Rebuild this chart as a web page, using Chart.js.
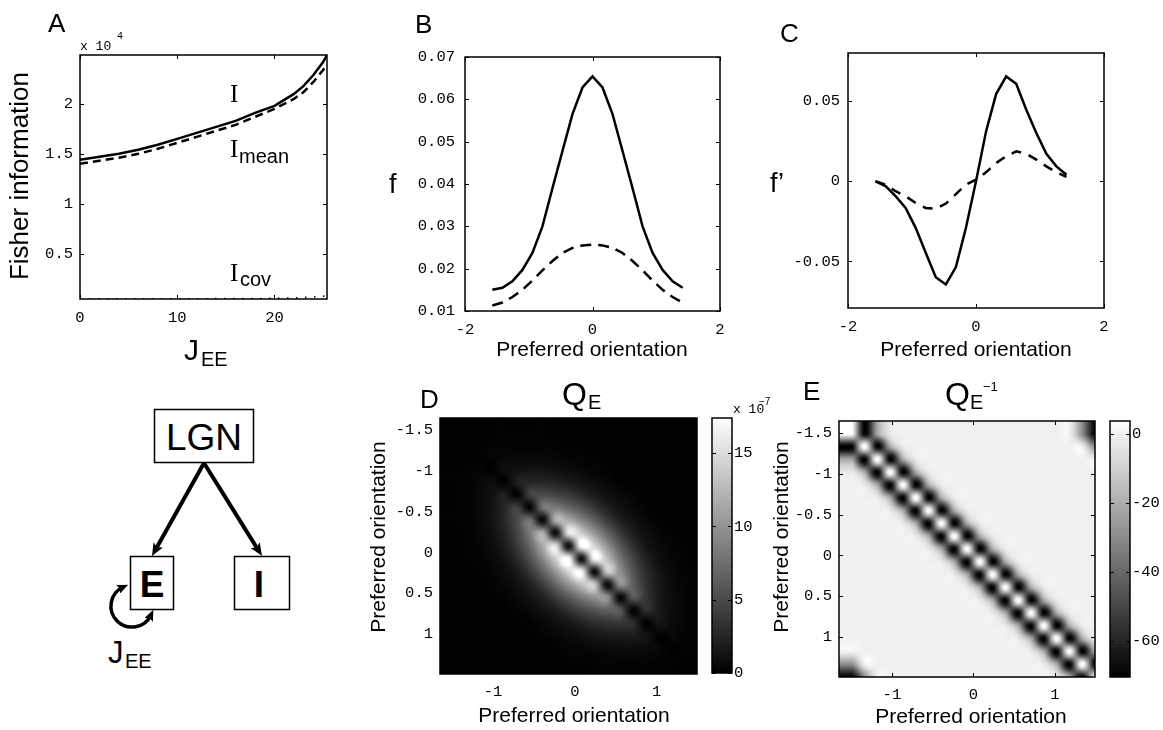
<!DOCTYPE html>
<html><head><meta charset="utf-8"><title>Fisher information figure</title>
<script src="https://cdn.jsdelivr.net/npm/chart.js@4.4.1/dist/chart.umd.min.js"></script>
<style>
html,body{margin:0;padding:0;background:#fff;}
#fig{position:relative;width:1163px;height:730px;overflow:hidden;background:#fff;}
#fig canvas,#fig svg{position:absolute;left:0;top:0;}
</style></head><body>
<div id="fig">
<svg id="diagram" width="1163" height="730" viewBox="0 0 1163 730" font-family="'Liberation Sans', Arial, sans-serif">
  <defs>
    <marker id="arr" viewBox="0 0 12 10" refX="6" refY="5" markerWidth="3.2" markerHeight="2.7" orient="auto-start-reverse" markerUnits="strokeWidth">
      <path d="M0,0 L12,5 L0,10 L2.5,5 z" fill="#000"/>
    </marker>
  </defs>
  <rect x="154.5" y="409.5" width="99" height="53" fill="#fff" stroke="#000" stroke-width="1.5"/>
  <text x="204" y="450" font-size="37" text-anchor="middle">LGN</text>
  <rect x="130.5" y="556.5" width="43" height="53" fill="none" stroke="#000" stroke-width="1.5"/>
  <text x="152" y="597" font-size="37" font-weight="bold" text-anchor="middle">E</text>
  <rect x="234.5" y="556.5" width="55" height="53" fill="none" stroke="#000" stroke-width="1.5"/>
  <text x="259" y="597" font-size="37" font-weight="bold" text-anchor="middle">I</text>
  <line x1="204" y1="463" x2="155.1" y2="550.4" stroke="#000" stroke-width="4" marker-end="url(#arr)"/>
  <line x1="204" y1="463" x2="258.6" y2="550.6" stroke="#000" stroke-width="4" marker-end="url(#arr)"/>
  <path d="M123.1,587 A21,21 0 1 0 151,614.9" fill="none" stroke="#000" stroke-width="3.5" marker-start="url(#arr)" marker-end="url(#arr)"/>
  <text x="108" y="663" font-size="31">J</text>
  <text x="125" y="668" font-size="20">EE</text>
</svg>
<canvas id="chartA" width="1163" height="730"></canvas>
<canvas id="chartB" width="1163" height="730"></canvas>
<canvas id="chartC" width="1163" height="730"></canvas>
<canvas id="chartD" width="1163" height="730"></canvas>
<canvas id="cbarD" width="1163" height="730"></canvas>
<canvas id="chartE" width="1163" height="730"></canvas>
<canvas id="cbarE" width="1163" height="730"></canvas>
</div>
<script>
// ---------------- DATA ----------------
// Panel A: Fisher information vs J_EE
const jEE        = [0, 2, 4, 6, 8, 10, 12, 14, 16, 18, 20, 22, 23, 24, 25, 25.4];
const fisherI    = [14400, 14700, 15000, 15400, 15900, 16500, 17100, 17700, 18300, 19100, 19800, 21000, 21800, 22900, 24200, 24900];
const fisherMean = [14000, 14300, 14600, 15000, 15500, 16100, 16700, 17300, 17900, 18700, 19500, 20500, 21200, 22200, 23400, 24000];
const jEEcov     = [0, 5, 10, 15, 18, 20, 22, 23, 24, 25, 25.4];
const fisherCov  = [470, 470, 480, 490, 500, 520, 560, 600, 650, 720, 780];
const ticksAx = [0, 10, 20];
const ticksAy = [5000, 10000, 15000, 20000];

// Panels B, C: tuning curves and their derivatives vs preferred orientation
const orientation = [-1.5708, -1.4137, -1.2566, -1.0996, -0.9425, -0.7854, -0.6283, -0.4712, -0.3142, -0.1571,
                      0, 0.1571, 0.3142, 0.4712, 0.6283, 0.7854, 0.9425, 1.0996, 1.2566, 1.4137];
const fSolid  = [0.0150, 0.0155, 0.0170, 0.0197, 0.0237, 0.0300, 0.0390, 0.0478, 0.0565, 0.0628,
                 0.0654, 0.0628, 0.0565, 0.0478, 0.0390, 0.0300, 0.0237, 0.0197, 0.0170, 0.0155];
const fDashed = [0.0113, 0.0120, 0.0133, 0.0150, 0.0172, 0.0196, 0.0218, 0.0237, 0.0249, 0.0255,
                 0.0257, 0.0255, 0.0249, 0.0237, 0.0218, 0.0196, 0.0172, 0.0150, 0.0133, 0.0120];
const dfSolid  = [0, -0.0030, -0.0093, -0.0166, -0.0290, -0.0446, -0.0598, -0.0643, -0.0535, -0.0290,
                  0, 0.0311, 0.0544, 0.0654, 0.0608, 0.0446, 0.0301, 0.0172, 0.0093, 0.0041];
const dfDashed = [0, -0.0020, -0.0062, -0.0093, -0.0135, -0.0166, -0.0172, -0.0139, -0.0080, -0.0020,
                  0.0010, 0.0056, 0.0114, 0.0156, 0.0187, 0.0172, 0.0135, 0.0093, 0.0056, 0.0027];
const ticksBCx = [-2, 0, 2];
const ticksBy  = [0.01, 0.02, 0.03, 0.04, 0.05, 0.06, 0.07];
const ticksCy  = [-0.05, 0, 0.05];

// Panels D, E: matrices (rows/cols follow `orientation`)
const QE = [ // units of 1e-7
[0,0,0,0.1,0.1,0.1,0.1,0.1,0,0,0,0,0,0,0,0,0,0,0,0],
[0,0,0.1,0.1,0.2,0.2,0.2,0.2,0.1,0.1,0.1,0,0,0,0,0,0,0,0,0],
[0,0.1,0,0.3,0.4,0.5,0.5,0.5,0.4,0.3,0.2,0.1,0,0,0,0,0,0,0,0],
[0.1,0.1,0.3,0,0.9,1.1,1.2,1.2,1.0,0.8,0.5,0.3,0.2,0,0,0,0,0,0,0],
[0.1,0.2,0.4,0.9,0.1,2.1,2.6,2.6,2.3,1.8,1.3,0.8,0.5,0.2,0,0,0,0,0,0],
[0.1,0.2,0.5,1.1,2.1,0.2,4.3,5.0,4.6,3.9,2.8,1.8,1.1,0.6,0.3,0,0,0,0,0],
[0.1,0.2,0.5,1.2,2.6,4.3,0.4,7.7,8.2,7.0,5.5,3.7,2.2,1.2,0.6,0.2,0,0,0,0],
[0.1,0.2,0.5,1.2,2.6,5.0,7.7,0.6,11.7,11.6,9.2,6.6,4.1,2.2,1.2,0.5,0.2,0,0,0],
[0,0.1,0.4,1.0,2.3,4.6,8.2,11.7,0.8,15.3,14.1,10.3,6.9,4.0,2.0,1.0,0.4,0.1,0,0],
[0,0.1,0.3,0.8,1.8,3.9,7.0,11.6,15.3,1.0,17.2,14.6,10.0,6.1,3.3,1.5,0.7,0.3,0.1,0],
[0,0.1,0.2,0.5,1.3,2.8,5.5,9.2,14.1,17.2,1.0,16.6,13.0,8.2,4.7,2.3,1.0,0.4,0.2,0],
[0,0,0.1,0.3,0.8,1.8,3.7,6.6,10.3,14.6,16.6,0.9,13.7,9.9,5.8,3.1,1.4,0.6,0.2,0.1],
[0,0,0,0.2,0.5,1.1,2.2,4.1,6.9,10.0,13.0,13.7,0.7,9.7,6.5,3.5,1.7,0.7,0.3,0.1],
[0,0,0,0,0.2,0.6,1.2,2.2,4.0,6.1,8.2,9.9,9.7,0.5,5.9,3.7,1.8,0.8,0.3,0.1],
[0,0,0,0,0,0.3,0.6,1.2,2.0,3.3,4.7,5.8,6.5,5.9,0.3,3.1,1.8,0.8,0.3,0.1],
[0,0,0,0,0,0,0.2,0.5,1.0,1.5,2.3,3.1,3.5,3.7,3.1,0.1,1.4,0.7,0.3,0.1],
[0,0,0,0,0,0,0,0.2,0.4,0.7,1.0,1.4,1.7,1.8,1.8,1.4,0.1,0.5,0.2,0.1],
[0,0,0,0,0,0,0,0,0.1,0.3,0.4,0.6,0.7,0.8,0.8,0.7,0.5,0,0.2,0.1],
[0,0,0,0,0,0,0,0,0,0.1,0.2,0.2,0.3,0.3,0.3,0.3,0.2,0.2,0,0],
[0,0,0,0,0,0,0,0,0,0,0,0.1,0.1,0.1,0.1,0.1,0.1,0.1,0,0]
];
const QEinv = [
[3.6,-70,-22,-3,-0.5,-0.5,-0.5,-0.5,-0.5,-0.5,-0.5,-0.5,-0.5,-0.5,-0.5,-0.5,-0.5,-0.5,-30,-70],
[-70,3.6,-70,-22,-3,-0.5,-0.5,-0.5,-0.5,-0.5,-0.5,-0.5,-0.5,-0.5,-0.5,-0.5,-0.5,-0.5,-0.5,-30],
[-22,-70,3.6,-70,-22,-3,-0.5,-0.5,-0.5,-0.5,-0.5,-0.5,-0.5,-0.5,-0.5,-0.5,-0.5,-0.5,-0.5,-0.5],
[-3,-22,-70,3.6,-70,-22,-3,-0.5,-0.5,-0.5,-0.5,-0.5,-0.5,-0.5,-0.5,-0.5,-0.5,-0.5,-0.5,-0.5],
[-0.5,-3,-22,-70,3.6,-70,-22,-3,-0.5,-0.5,-0.5,-0.5,-0.5,-0.5,-0.5,-0.5,-0.5,-0.5,-0.5,-0.5],
[-0.5,-0.5,-3,-22,-70,3.6,-70,-22,-3,-0.5,-0.5,-0.5,-0.5,-0.5,-0.5,-0.5,-0.5,-0.5,-0.5,-0.5],
[-0.5,-0.5,-0.5,-3,-22,-70,3.6,-70,-22,-3,-0.5,-0.5,-0.5,-0.5,-0.5,-0.5,-0.5,-0.5,-0.5,-0.5],
[-0.5,-0.5,-0.5,-0.5,-3,-22,-70,3.6,-70,-22,-3,-0.5,-0.5,-0.5,-0.5,-0.5,-0.5,-0.5,-0.5,-0.5],
[-0.5,-0.5,-0.5,-0.5,-0.5,-3,-22,-70,3.6,-70,-22,-3,-0.5,-0.5,-0.5,-0.5,-0.5,-0.5,-0.5,-0.5],
[-0.5,-0.5,-0.5,-0.5,-0.5,-0.5,-3,-22,-70,3.6,-70,-22,-3,-0.5,-0.5,-0.5,-0.5,-0.5,-0.5,-0.5],
[-0.5,-0.5,-0.5,-0.5,-0.5,-0.5,-0.5,-3,-22,-70,3.6,-70,-22,-3,-0.5,-0.5,-0.5,-0.5,-0.5,-0.5],
[-0.5,-0.5,-0.5,-0.5,-0.5,-0.5,-0.5,-0.5,-3,-22,-70,3.6,-70,-22,-3,-0.5,-0.5,-0.5,-0.5,-0.5],
[-0.5,-0.5,-0.5,-0.5,-0.5,-0.5,-0.5,-0.5,-0.5,-3,-22,-70,3.6,-70,-22,-3,-0.5,-0.5,-0.5,-0.5],
[-0.5,-0.5,-0.5,-0.5,-0.5,-0.5,-0.5,-0.5,-0.5,-0.5,-3,-22,-70,3.6,-70,-22,-3,-0.5,-0.5,-0.5],
[-0.5,-0.5,-0.5,-0.5,-0.5,-0.5,-0.5,-0.5,-0.5,-0.5,-0.5,-3,-22,-70,3.6,-70,-22,-3,-0.5,-0.5],
[-0.5,-0.5,-0.5,-0.5,-0.5,-0.5,-0.5,-0.5,-0.5,-0.5,-0.5,-0.5,-3,-22,-70,3.6,-70,-22,-3,-0.5],
[-0.5,-0.5,-0.5,-0.5,-0.5,-0.5,-0.5,-0.5,-0.5,-0.5,-0.5,-0.5,-0.5,-3,-22,-70,3.6,-70,-22,-3],
[-0.5,-0.5,-0.5,-0.5,-0.5,-0.5,-0.5,-0.5,-0.5,-0.5,-0.5,-0.5,-0.5,-0.5,-3,-22,-70,3.6,-70,-22],
[-30,-0.5,-0.5,-0.5,-0.5,-0.5,-0.5,-0.5,-0.5,-0.5,-0.5,-0.5,-0.5,-0.5,-0.5,-3,-22,-70,3.6,-70],
[-70,-30,-0.5,-0.5,-0.5,-0.5,-0.5,-0.5,-0.5,-0.5,-0.5,-0.5,-0.5,-0.5,-0.5,-0.5,-3,-22,-70,3.6]
];
const ticksHeatX = [-1, 0, 1];
const ticksHeatY = [-1.5, -1, -0.5, 0, 0.5, 1];
const limitsQE    = [0, 17.4];
const limitsQEinv = [-70.5, 3.66];
const ticksCbarQE    = [0, 5, 10, 15];
const ticksCbarQEinv = [-60, -40, -20, 0];

// ---------------- HELPERS ----------------
const FW = 1163, FH = 730;
const SANS = '"Liberation Sans", Arial, sans-serif';
const MONO = '"Liberation Mono", "DejaVu Sans Mono", monospace';
const SERIF = '"Liberation Serif", "Times New Roman", serif';
const TICK_FONT = {family: MONO, size: 15.5};
Chart.defaults.color = '#000';

function txt(ctx, s, x, y, size, o = {}) {
  ctx.save();
  ctx.font = (o.bold ? 'bold ' : '') + size + 'px ' + (o.fam || SANS);
  ctx.fillStyle = '#000';
  ctx.textAlign = o.align || 'left';
  ctx.textBaseline = o.base || 'alphabetic';
  ctx.translate(x, y);
  if (o.rot) ctx.rotate(o.rot);
  ctx.fillText(s, 0, 0);
  ctx.restore();
}

function scale(min, max, ticks, o = {}) {
  return {
    type: 'linear', min, max,
    position: o.position,
    reverse: !!o.reverse,
    display: o.display !== false,
    grid: {display: false, drawTicks: false},
    border: {display: false},
    ticks: {font: TICK_FONT, color: '#000', padding: o.pad || 0, maxRotation: 0, autoSkip: false,
            callback: o.fmt || (v => String(v))},
    afterBuildTicks: s => { s.ticks = ticks.map(v => ({value: v})); },
    afterFit: s => { if (o.size != null) { if (s.isHorizontal()) s.height = o.size; else s.width = o.size; } }
  };
}

function layoutFor(area, yW, xH, yRight) {
  return {padding: yRight
    ? {left: area.l, top: area.t, right: FW - area.r - yW, bottom: FH - area.b - xH}
    : {left: area.l - yW, top: area.t, right: FW - area.r, bottom: FH - area.b - xH}};
}

const framePlugin = {
  id: 'frame',
  afterDatasetsDraw(chart) {
    const {ctx, chartArea: a} = chart;
    ctx.save();
    ctx.strokeStyle = '#000';
    ctx.lineWidth = 1.5;
    ctx.strokeRect(a.left, a.top, a.right - a.left, a.bottom - a.top);
    ctx.lineWidth = 1;
    const L = 4;
    ctx.beginPath();
    const xs = chart.scales.x, ys = chart.scales.y;
    if (xs && xs.options.display !== false) {
      for (const t of xs.ticks) {
        const p = Math.round(xs.getPixelForValue(t.value)) + 0.5;
        ctx.moveTo(p, a.bottom); ctx.lineTo(p, a.bottom - L);
        ctx.moveTo(p, a.top); ctx.lineTo(p, a.top + L);
      }
    }
    if (ys && ys.options.display !== false) {
      for (const t of ys.ticks) {
        const p = Math.round(ys.getPixelForValue(t.value)) + 0.5;
        ctx.moveTo(a.left, p); ctx.lineTo(a.left + L, p);
        ctx.moveTo(a.right, p); ctx.lineTo(a.right - L, p);
      }
    }
    ctx.stroke();
    ctx.restore();
  }
};
Chart.register(framePlugin);

function cubic(p0, p1, p2, p3, t) {
  return p1 + 0.5 * t * (p2 - p0 + t * (2 * p0 - 5 * p1 + 4 * p2 - p3 + t * (3 * (p1 - p2) + p3 - p0)));
}
function sample(M, r, c) {
  const n = M.length, m = M[0].length;
  r = Math.max(0, Math.min(n - 1, r)); c = Math.max(0, Math.min(m - 1, c));
  const r0 = Math.floor(r), c0 = Math.floor(c), tr = r - r0, tc = c - c0;
  const cl = (k, N) => Math.max(0, Math.min(N - 1, k));
  const v = [];
  for (let k = -1; k <= 2; k++) {
    const R = M[cl(r0 + k, n)];
    v.push(cubic(R[cl(c0 - 1, m)], R[cl(c0, m)], R[cl(c0 + 1, m)], R[cl(c0 + 2, m)], tc));
  }
  return cubic(v[0], v[1], v[2], v[3], tr);
}

function heatPlugin(M, lim) {
  return {
    id: 'heat',
    beforeDatasetsDraw(chart) {
      const {ctx, chartArea: a, scales: {x, y}} = chart;
      const w = Math.round(a.right - a.left), h = Math.round(a.bottom - a.top);
      const step = orientation[1] - orientation[0];
      const pos0 = orientation[0] + step / 2; // image resampling offset seen in the reference
      const off = document.createElement('canvas'); off.width = w; off.height = h;
      const oc = off.getContext('2d');
      const img = oc.createImageData(w, h);
      const cols = [];
      for (let px = 0; px < w; px++) cols.push((x.getValueForPixel(a.left + px + 0.5) - pos0) / step);
      for (let py = 0; py < h; py++) {
        const r = (y.getValueForPixel(a.top + py + 0.5) - pos0) / step;
        for (let px = 0; px < w; px++) {
          const val = sample(M, r, cols[px]);
          let g = (val - lim[0]) / (lim[1] - lim[0]);
          g = Math.max(0, Math.min(1, g));
          const G = Math.round(g * 255), i = (py * w + px) * 4;
          img.data[i] = G; img.data[i + 1] = G; img.data[i + 2] = G; img.data[i + 3] = 255;
        }
      }
      oc.putImageData(img, 0, 0);
      ctx.drawImage(off, a.left, a.top);
    }
  };
}

function cbarPlugin() {
  return {
    id: 'cbar',
    beforeDatasetsDraw(chart) {
      const {ctx, chartArea: a, scales: {y}} = chart;
      const lo = y.min, hi = y.max;
      for (let py = Math.floor(a.top); py < a.bottom; py++) {
        const v = y.getValueForPixel(py + 0.5);
        const G = Math.round(Math.max(0, Math.min(1, (v - lo) / (hi - lo))) * 255);
        ctx.fillStyle = `rgb(${G},${G},${G})`;
        ctx.fillRect(a.left, py, a.right - a.left, 1);
      }
    }
  };
}

const baseOpts = {
  responsive: false, animation: false, events: [],
  plugins: {legend: {display: false}, tooltip: {enabled: false}, title: {display: false}}
};
const pts = (xs, ys) => xs.map((v, i) => ({x: v, y: ys[i]}));
const lineDs = (data, dash, width) => ({
  data, borderColor: '#000', borderWidth: width || 2.5, borderDash: dash || [],
  pointRadius: 0, tension: 0, fill: false
});

// ---------------- PANEL A ----------------
const areaA = {l: 80, t: 55, r: 327, b: 299};
new Chart(document.getElementById('chartA'), {
  type: 'line',
  data: {datasets: [
    lineDs(pts(jEE, fisherI)),
    lineDs(pts(jEE, fisherMean), [8, 5]),
    lineDs(pts(jEEcov, fisherCov), [1.5, 7.5], 1.5)
  ]},
  options: Object.assign({}, baseOpts, {
    layout: layoutFor(areaA, 60, 40),
    scales: {
      x: scale(0, 25.4, ticksAx, {position: 'bottom', pad: 10, size: 40}),
      y: scale(450, 24900, ticksAy, {position: 'left', pad: 7, size: 60, fmt: v => String(v / 1e4)})
    }
  }),
  plugins: [{id: 'labelsA', afterDraw(chart) {
    const c = chart.ctx;
    txt(c, 'A', 48, 32, 26);
    txt(c, 'x 10', 80, 50, 13, {fam: MONO});
    txt(c, '4', 117, 39, 10, {fam: MONO});
    txt(c, 'Fisher information', 21, 176, 26, {align: 'center', base: 'middle', rot: -Math.PI / 2});
    txt(c, 'J', 184, 360, 30);
    txt(c, 'EE', 201, 366, 20);
    txt(c, 'I', 230, 102, 25, {fam: SERIF});
    txt(c, 'I', 230, 157, 25, {fam: SERIF});
    txt(c, 'mean', 239, 163, 20);
    txt(c, 'I', 230, 281, 25, {fam: SERIF});
    txt(c, 'cov', 240, 286, 20);
  }}]
});

// ---------------- PANEL B ----------------
const areaB = {l: 465, t: 57, r: 720, b: 311};
new Chart(document.getElementById('chartB'), {
  type: 'line',
  data: {datasets: [
    lineDs(pts(orientation, fSolid)),
    lineDs(pts(orientation, fDashed), [11, 7])
  ]},
  options: Object.assign({}, baseOpts, {
    layout: layoutFor(areaB, 70, 40),
    scales: {
      x: scale(-2, 2, ticksBCx, {position: 'bottom', pad: 10, size: 40}),
      y: scale(0.01, 0.07, ticksBy, {position: 'left', pad: 10, size: 70})
    }
  }),
  plugins: [{id: 'labelsB', afterDraw(chart) {
    const c = chart.ctx;
    txt(c, 'B', 415, 33, 26);
    txt(c, 'f', 389, 193, 27);
    txt(c, 'Preferred orientation', 592, 356, 21, {align: 'center'});
  }}]
});

// ---------------- PANEL C ----------------
const areaC = {l: 848, t: 53, r: 1104, b: 308};
new Chart(document.getElementById('chartC'), {
  type: 'line',
  data: {datasets: [
    lineDs(pts(orientation, dfSolid)),
    lineDs(pts(orientation, dfDashed), [10, 8])
  ]},
  options: Object.assign({}, baseOpts, {
    layout: layoutFor(areaC, 70, 40),
    scales: {
      x: scale(-2, 2, ticksBCx, {position: 'bottom', pad: 10, size: 40}),
      y: scale(-0.079, 0.08, ticksCy, {position: 'left', pad: 8, size: 70})
    }
  }),
  plugins: [{id: 'labelsC', afterDraw(chart) {
    const c = chart.ctx;
    txt(c, 'C', 780, 42, 26);
    txt(c, 'f\u2019', 770, 192, 27);
    txt(c, 'Preferred orientation', 976, 356, 21, {align: 'center'});
  }}]
});

// ---------------- PANEL D ----------------
const half = (orientation[1] - orientation[0]) / 2;
const extMin = orientation[0] - half, extMax = orientation[orientation.length - 1] + half;
const areaD = {l: 440, t: 418, r: 697, b: 674};
new Chart(document.getElementById('chartD'), {
  type: 'scatter',
  data: {datasets: []},
  options: Object.assign({}, baseOpts, {
    layout: layoutFor(areaD, 60, 40),
    scales: {
      x: scale(extMin, extMax, ticksHeatX, {position: 'bottom', pad: 9, size: 40}),
      y: scale(extMin, extMax, ticksHeatY, {position: 'left', pad: 7, size: 60, reverse: true})
    }
  }),
  plugins: [heatPlugin(QE, limitsQE), {id: 'labelsD', afterDraw(chart) {
    const c = chart.ctx;
    txt(c, 'D', 420, 408, 26);
    txt(c, 'Q', 562, 405, 32);
    txt(c, 'E', 588, 409, 20);
    txt(c, 'Preferred orientation', 379, 537, 21, {align: 'center', base: 'middle', rot: -Math.PI / 2});
    txt(c, 'Preferred orientation', 574, 722, 21, {align: 'center'});
  }}]
});
const areaDc = {l: 712, t: 418, r: 732, b: 673};
new Chart(document.getElementById('cbarD'), {
  type: 'scatter',
  data: {datasets: []},
  options: Object.assign({}, baseOpts, {
    layout: layoutFor(areaDc, 40, 0, true),
    scales: {
      x: scale(0, 1, [], {display: false}),
      y: scale(limitsQE[0], limitsQE[1], ticksCbarQE, {position: 'right', pad: 2, size: 40})
    }
  }),
  plugins: [cbarPlugin(), {id: 'labelsDc', afterDraw(chart) {
    const c = chart.ctx;
    txt(c, 'x 10', 733, 413, 13, {fam: MONO});
    txt(c, '\u22127', 759, 405, 10);
  }}]
});

// ---------------- PANEL E ----------------
const areaE = {l: 839, t: 421, r: 1095, b: 677};
new Chart(document.getElementById('chartE'), {
  type: 'scatter',
  data: {datasets: []},
  options: Object.assign({}, baseOpts, {
    layout: layoutFor(areaE, 60, 40),
    scales: {
      x: scale(extMin, extMax, ticksHeatX, {position: 'bottom', pad: 9, size: 40}),
      y: scale(extMin, extMax, ticksHeatY, {position: 'left', pad: 7, size: 60, reverse: true})
    }
  }),
  plugins: [heatPlugin(QEinv, limitsQEinv), {id: 'labelsE', afterDraw(chart) {
    const c = chart.ctx;
    txt(c, 'E', 803, 400, 26);
    txt(c, 'Q', 945, 405, 32);
    txt(c, 'E', 970, 409, 20);
    txt(c, '\u22121', 983, 391, 13);
    txt(c, 'Preferred orientation', 782, 537, 21, {align: 'center', base: 'middle', rot: -Math.PI / 2});
    txt(c, 'Preferred orientation', 971, 723, 21, {align: 'center'});
  }}]
});
const areaEc = {l: 1110, t: 421, r: 1130, b: 677};
new Chart(document.getElementById('cbarE'), {
  type: 'scatter',
  data: {datasets: []},
  options: Object.assign({}, baseOpts, {
    layout: layoutFor(areaEc, 33, 0, true),
    scales: {
      x: scale(0, 1, [], {display: false}),
      y: scale(limitsQEinv[0], limitsQEinv[1], ticksCbarQEinv, {position: 'right', pad: 2, size: 33})
    }
  }),
  plugins: [cbarPlugin()]
});
</script>
</body></html>
